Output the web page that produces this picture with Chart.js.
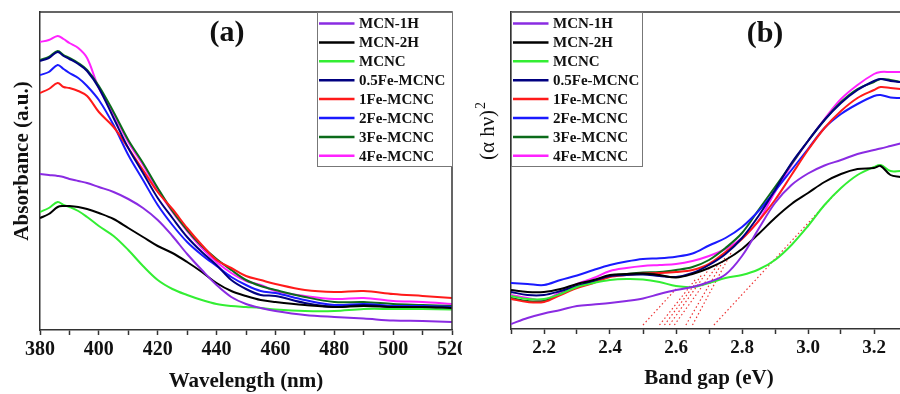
<!DOCTYPE html>
<html>
<head>
<meta charset="utf-8">
<script src="https://cdn.jsdelivr.net/npm/chart.js@4.4.0/dist/chart.umd.min.js"></script>
<style>
  body { margin: 0; background: #fff; width: 900px; height: 394px; overflow: hidden; position: relative; }
  .clip { position: absolute; top: 0; height: 394px; overflow: hidden; }
  #clipA { left: 0; width: 462px; }
  #clipB { left: 460px; width: 440px; }
  .box { position: relative; height: 394px; }
  #boxA { width: 480px; }
  #boxB { width: 460px; }
</style>
</head>
<body>
<div class="clip" id="clipA"><div class="box" id="boxA"><canvas id="graficoA"></canvas></div></div>
<div class="clip" id="clipB"><div class="box" id="boxB"><canvas id="graficoB"></canvas></div></div>
<script>
// DADOS

const nomes = ['MCN-1H', 'MCN-2H', 'MCNC', '0.5Fe-MCNC', '1Fe-MCNC', '2Fe-MCNC', '3Fe-MCNC', '4Fe-MCNC'];
const cores = ['#8a2be2', '#000000', '#33ee33', '#000080', '#ff1a1a', '#1a1aff', '#0b6b1a', '#ff22ff'];

// (a) absorbancia x comprimento de onda
const wavelength = [380, 383, 386, 388, 390, 393, 396, 400, 405, 410, 415, 420, 425, 430, 435, 440, 445, 450, 455, 460, 470, 480, 490, 500, 510, 520];
const mcn1hA = [1.56, 1.55, 1.54, 1.53, 1.51, 1.49, 1.47, 1.43, 1.38, 1.31, 1.22, 1.10, 0.94, 0.76, 0.60, 0.45, 0.33, 0.26, 0.22, 0.19, 0.15, 0.13, 0.115, 0.095, 0.09, 0.08];
const mcn2hA = [1.12, 1.16, 1.23, 1.24, 1.24, 1.23, 1.21, 1.17, 1.11, 1.02, 0.93, 0.84, 0.77, 0.68, 0.58, 0.47, 0.39, 0.34, 0.30, 0.28, 0.25, 0.23, 0.24, 0.23, 0.23, 0.22];
const mcncA = [1.18, 1.22, 1.28, 1.25, 1.23, 1.19, 1.13, 1.04, 0.94, 0.80, 0.64, 0.50, 0.41, 0.35, 0.30, 0.26, 0.24, 0.23, 0.22, 0.205, 0.19, 0.19, 0.21, 0.21, 0.21, 0.205];
const fe05A = [2.69, 2.72, 2.78, 2.74, 2.71, 2.66, 2.59, 2.42, 2.12, 1.82, 1.57, 1.32, 1.12, 0.93, 0.78, 0.65, 0.50, 0.41, 0.35, 0.34, 0.27, 0.23, 0.25, 0.23, 0.23, 0.22];
const fe1A = [2.37, 2.41, 2.47, 2.43, 2.42, 2.39, 2.34, 2.18, 2.03, 1.82, 1.60, 1.38, 1.21, 1.02, 0.85, 0.70, 0.62, 0.54, 0.50, 0.46, 0.40, 0.38, 0.39, 0.36, 0.34, 0.32];
const fe2A = [2.55, 2.58, 2.65, 2.61, 2.57, 2.52, 2.44, 2.30, 2.05, 1.75, 1.50, 1.25, 1.05, 0.88, 0.75, 0.64, 0.53, 0.45, 0.39, 0.37, 0.30, 0.25, 0.26, 0.24, 0.24, 0.23];
const fe3A = [2.70, 2.73, 2.79, 2.75, 2.72, 2.67, 2.60, 2.44, 2.18, 1.90, 1.67, 1.42, 1.19, 1.00, 0.84, 0.71, 0.60, 0.50, 0.44, 0.40, 0.33, 0.28, 0.28, 0.26, 0.25, 0.24];
const fe4A = [2.88, 2.90, 2.94, 2.91, 2.87, 2.82, 2.72, 2.42, 2.16, 1.88, 1.65, 1.40, 1.18, 0.99, 0.82, 0.68, 0.57, 0.49, 0.45, 0.39, 0.34, 0.31, 0.32, 0.29, 0.28, 0.26];

// (b) (alfa h nu)^2 x band gap
const energy = [2.10, 2.15, 2.20, 2.25, 2.30, 2.35, 2.40, 2.45, 2.50, 2.55, 2.60, 2.65, 2.70, 2.75, 2.80, 2.85, 2.90, 2.95, 3.00, 3.05, 3.10, 3.15, 3.20, 3.22, 3.25, 3.28];
const mcn1hB = [0.05, 0.11, 0.155, 0.19, 0.23, 0.245, 0.26, 0.28, 0.305, 0.35, 0.39, 0.42, 0.47, 0.545, 0.73, 1.00, 1.26, 1.44, 1.555, 1.635, 1.69, 1.75, 1.79, 1.805, 1.83, 1.855];
const mcn2hB = [0.39, 0.37, 0.37, 0.40, 0.45, 0.49, 0.54, 0.55, 0.555, 0.54, 0.515, 0.55, 0.61, 0.69, 0.80, 0.95, 1.11, 1.25, 1.36, 1.47, 1.55, 1.60, 1.61, 1.63, 1.54, 1.52];
const mcncB = [0.33, 0.30, 0.30, 0.35, 0.42, 0.46, 0.49, 0.50, 0.495, 0.47, 0.43, 0.42, 0.46, 0.51, 0.54, 0.595, 0.69, 0.84, 1.03, 1.24, 1.41, 1.54, 1.62, 1.64, 1.58, 1.58];
const fe05B = [0.37, 0.34, 0.34, 0.38, 0.43, 0.48, 0.53, 0.54, 0.545, 0.53, 0.52, 0.56, 0.64, 0.75, 0.91, 1.13, 1.39, 1.66, 1.88, 2.09, 2.26, 2.39, 2.48, 2.50, 2.48, 2.47];
const fe1B = [0.30, 0.27, 0.27, 0.34, 0.41, 0.46, 0.52, 0.54, 0.555, 0.56, 0.57, 0.59, 0.65, 0.77, 0.90, 1.08, 1.29, 1.54, 1.79, 2.01, 2.18, 2.31, 2.39, 2.42, 2.41, 2.40];
const fe2B = [0.46, 0.45, 0.44, 0.49, 0.535, 0.59, 0.64, 0.675, 0.70, 0.707, 0.723, 0.755, 0.835, 0.91, 1.02, 1.18, 1.38, 1.59, 1.80, 2.01, 2.15, 2.25, 2.33, 2.34, 2.315, 2.31];
const fe3B = [0.31, 0.28, 0.28, 0.35, 0.42, 0.47, 0.53, 0.55, 0.565, 0.57, 0.59, 0.62, 0.69, 0.81, 0.96, 1.19, 1.42, 1.65, 1.88, 2.09, 2.27, 2.40, 2.47, 2.50, 2.49, 2.47];
const fe4B = [0.34, 0.31, 0.29, 0.37, 0.45, 0.51, 0.58, 0.61, 0.63, 0.64, 0.65, 0.68, 0.73, 0.80, 0.91, 1.08, 1.37, 1.64, 1.88, 2.10, 2.30, 2.44, 2.55, 2.57, 2.57, 2.57];

// retas tangentes (tracejado vermelho): inicio no eixo e ponto final
const tangentGap = [2.50, 2.55, 2.565, 2.58, 2.595, 2.63, 2.65, 2.715];
const tangentBase = 0.04;
const tangentTopE = [2.60, 2.66, 2.68, 2.70, 2.73, 2.75, 2.77, 3.09];
const tangentTopV = [0.40, 0.50, 0.55, 0.60, 0.66, 0.72, 0.78, 1.38];

//FIM DOS DADOS

const serif = "'Liberation Serif', 'Times New Roman', serif";
Chart.defaults.font.family = serif;
Chart.defaults.color = '#111';

const serie = (i, data) => ({
	label: nomes[i],
	data: data,
	borderColor: cores[i],
	borderWidth: 2,
	pointRadius: 0,
	tension: 0.35,
	fill: false
});

// moldura (borda de cima e da direita)
const moldura = {
	id: 'moldura',
	afterDatasetsDraw(chart) {
		const {ctx, chartArea: a} = chart;
		ctx.save();
		ctx.strokeStyle = '#333';
		ctx.lineWidth = 1.5;
		ctx.beginPath();
		ctx.moveTo(a.left, a.top);
		ctx.lineTo(a.right, a.top);
		ctx.lineTo(a.right, a.bottom);
		ctx.stroke();
		ctx.restore();
	}
};

// legenda desenhada dentro do grafico
const legenda = {
	id: 'legenda',
	afterDraw(chart, args, o) {
		const {ctx, chartArea: a} = chart;
		const x0 = o.direita ? a.right - o.largura : a.left;
		const y0 = a.top;
		ctx.save();
		ctx.fillStyle = '#fff';
		ctx.fillRect(x0, y0, o.largura, o.altura);
		ctx.strokeStyle = '#777';
		ctx.lineWidth = 1;
		ctx.strokeRect(x0 + 0.5, y0 + 0.5, o.largura, o.altura);
		ctx.font = 'bold 15px ' + serif;
		ctx.textBaseline = 'middle';
		chart.data.datasets.filter(d => !d.tangente).forEach((d, i) => {
			const y = y0 + 11.5 + i * 18.9;
			ctx.strokeStyle = d.borderColor;
			ctx.lineWidth = 2.5;
			ctx.beginPath();
			ctx.moveTo(x0 + 2, y);
			ctx.lineTo(x0 + 37.5, y);
			ctx.stroke();
			ctx.fillStyle = '#111';
			ctx.fillText(d.label, x0 + 42, y + 1);
		});
		ctx.restore();
	}
};

// rotulo do painel e titulo do eixo y
const rotulos = {
	id: 'rotulos',
	afterDraw(chart, args, o) {
		const ctx = chart.ctx;
		ctx.save();
		ctx.fillStyle = '#111';
		ctx.font = 'bold 30px ' + serif;
		ctx.textAlign = 'center';
		ctx.textBaseline = 'middle';
		ctx.fillText(o.painel, o.px, o.py);
		ctx.translate(o.tx, o.ty);
		ctx.rotate(-Math.PI / 2);
		ctx.font = o.fonte;
		const w = ctx.measureText(o.titulo).width;
		ctx.fillText(o.titulo, 0, 0);
		if (o.sup) {
			ctx.font = '14px ' + serif;
			ctx.textAlign = 'left';
			ctx.fillText(o.sup, w / 2 + 1, -7);
		}
		ctx.restore();
	}
};

const eixoX = (min, max, passo, rotulo, titulo, altura, fmt) => ({
	type: 'linear',
	min: min,
	max: max,
	ticks: {
		stepSize: passo,
		autoSkip: false,
		maxRotation: 0,
		includeBounds: false,
		padding: 3,
		color: '#111',
		font: { size: rotulo, weight: 'bold' },
		callback: fmt
	},
	grid: { drawOnChartArea: false, tickLength: 5, tickColor: '#333', tickWidth: 1.5 },
	border: { color: '#333', width: 1.5 },
	title: { display: true, text: titulo, color: '#111', font: { size: 21, weight: 'bold' }, padding: { top: 0, bottom: altura === 64 ? 0 : 3 } },
	afterFit: s => { s.height = altura; }
});

const eixoY = (max, largura) => ({
	min: 0,
	max: max,
	ticks: { display: false },
	grid: { display: false },
	border: { display: true, color: '#333', width: 1.5 },
	afterFit: s => { s.width = largura; }
});

const opcoesBase = {
	responsive: true,
	maintainAspectRatio: false,
	animation: false,
	devicePixelRatio: 1,
	events: []
};

//Grafico (a)
const graficoA = new Chart(document.getElementById('graficoA'), {
	type: 'line',
	data: {
		labels: wavelength,
		datasets: [
			serie(0, mcn1hA), serie(1, mcn2hA), serie(2, mcncA), serie(3, fe05A),
			serie(4, fe1A), serie(5, fe2A), serie(6, fe3A), serie(7, fe4A)
		]
	},
	options: {
		...opcoesBase,
		layout: { padding: { top: 12, right: 28, left: 0, bottom: 0 } },
		scales: {
			x: eixoX(380, 520, 10, 20, 'Wavelength (nm)', 64, v => v % 20 === 0 ? v : ''),
			y: eixoY(3.18, 40)
		},
		plugins: {
			legend: { display: false },
			tooltip: { enabled: false },
			legenda: { direita: true, largura: 135, altura: 154 },
			rotulos: { painel: '(a)', px: 227, py: 33, titulo: 'Absorbance (a.u.)', fonte: 'bold 21px ' + serif, tx: 23, ty: 161 }
		}
	},
	plugins: [moldura, legenda, rotulos]
});

//Grafico (b)
const datasetsB = [
	serie(0, mcn1hB), serie(1, mcn2hB), serie(2, mcncB), serie(3, fe05B),
	serie(4, fe1B), serie(5, fe2B), serie(6, fe3B), serie(7, fe4B)
];
tangentGap.forEach((e, i) => {
	datasetsB.push({
		label: '',
		tangente: true,
		data: [{ x: e, y: tangentBase }, { x: tangentTopE[i], y: tangentTopV[i] }],
		borderColor: '#ee3333',
		borderWidth: 1.2,
		borderDash: [1.5, 2.5],
		pointRadius: 0,
		fill: false
	});
});

const graficoB = new Chart(document.getElementById('graficoB'), {
	type: 'line',
	data: {
		labels: energy,
		datasets: datasetsB
	},
	options: {
		...opcoesBase,
		layout: { padding: { top: 12, right: 13, left: 0, bottom: 0 } },
		scales: {
			x: eixoX(2.1, 3.3, 0.1, 19, 'Band gap (eV)', 65, v => Math.round(v * 10) % 2 === 0 ? v.toFixed(1) : ''),
			y: eixoY(3.17, 51)
		},
		plugins: {
			legend: { display: false },
			tooltip: { enabled: false },
			legenda: { direita: false, largura: 131, altura: 154 },
			rotulos: { painel: '(b)', px: 305, py: 34, titulo: '(\u03b1 h\u03bd)', fonte: '21px ' + serif, sup: '2', tx: 28, ty: 135 }
		}
	},
	plugins: [moldura, legenda, rotulos]
});
</script>
</body>
</html>
